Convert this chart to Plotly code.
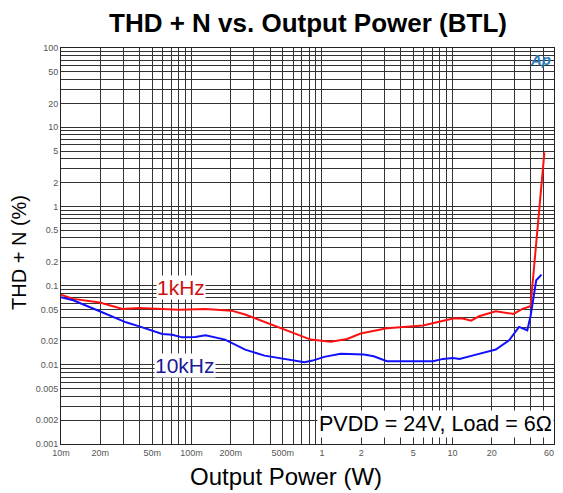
import numpy as np
import plotly.graph_objects as go

# ---- data ----
red_x = [0.010, 0.0124, 0.0198, 0.0297, 0.0398, 0.080, 0.128, 0.203, 0.258, 0.41, 0.58,
         0.653, 0.82, 1.17, 1.56, 1.98, 3.15, 5.95, 10.1, 12.0, 13.9, 16.0, 21.5, 29.4,
         34.4, 39.7, 50.7]
red_y = [0.077, 0.068, 0.061, 0.0508, 0.0523, 0.0494, 0.0508, 0.0483, 0.0431, 0.0322, 0.0253,
         0.0240, 0.0208, 0.0196, 0.0212, 0.0248, 0.0289, 0.0313, 0.0383, 0.0383, 0.0361, 0.041,
         0.0474, 0.0439, 0.0508, 0.0548, 4.8]

blue_x = [0.010, 0.0124, 0.0198, 0.0315, 0.0398, 0.0597, 0.0712, 0.0848, 0.107, 0.128, 0.181,
          0.258, 0.363, 0.517, 0.653, 0.734, 0.848, 1.041, 1.392, 2.094, 2.495, 3.148, 7.124,
          8.48, 10.1, 11.34, 15.19, 21.5, 27.2, 32.4, 37.5, 39.7, 43.9, 48.2]
blue_y = [0.0711, 0.0652, 0.0474, 0.0344, 0.0306, 0.0245, 0.0240, 0.0222, 0.0225, 0.0236, 0.0208,
          0.01556, 0.01306, 0.01187, 0.01107, 0.01076, 0.0113, 0.0126, 0.01374, 0.01345, 0.0128,
          0.01107, 0.01107, 0.01187, 0.01222, 0.01187, 0.01345, 0.01556, 0.0204, 0.0301, 0.0273,
          0.041, 0.1167, 0.1377]

x_label_vals = [0.01, 0.02, 0.05, 0.1, 0.2, 0.5, 1, 2, 5, 10, 20, 60]
x_label_text = ["10m", "20m", "50m", "100m", "200m", "500m", "1", "2", "5", "10", "20", "60"]
y_label_vals = [100, 50, 20, 10, 5, 2, 1, 0.5, 0.2, 0.1, 0.05, 0.02, 0.01, 0.005, 0.002, 0.001]
y_label_text = ["100", "50", "20", "10", "5", "2", "1", "0.5", "0.2", "0.1", "0.05", "0.02",
                "0.01", "0.005", "0.002", "0.001"]

title_text = "THD + N vs. Output Power (BTL)"
x_title = "Output Power (W)"
y_title = "THD + N (%)"
series_names = ["1kHz", "10kHz"]
cond_text = "PVDD = 24V, Load = 6Ω"

# grid positions (all 1..9 per decade)
x_grid = [k * 10.0 ** d for d in range(-2, 2) for k in range(1, 10) if k * 10.0 ** d <= 60]
y_grid = [k * 10.0 ** d for d in range(-3, 2) for k in range(1, 10)] + [100]

FONT = "Liberation Sans, Arial, sans-serif"
GRID = "#333333"

# page body has an 8px margin and the figure width is limited to 547px
W, H = 547, 485
L, R, T, B = 53, 1, 40, 49
pw, ph = W - L - R, H - T - B

fig = go.Figure()
fig.add_trace(go.Scatter(x=red_x, y=red_y, mode="lines", name=series_names[0],
                         line=dict(color="#ff1010", width=2)))
fig.add_trace(go.Scatter(x=blue_x, y=blue_y, mode="lines", name=series_names[1],
                         line=dict(color="#1010ff", width=2)))

axis_common = dict(showline=True, linecolor="#222", linewidth=1, mirror=True,
                   ticks="", showgrid=False, zeroline=False,
                   tickfont=dict(family=FONT, size=9, color="#555"))

x_lo, x_hi = np.log10(0.01), np.log10(60.0)
# label for the right-most tick is pulled inward slightly so it stays on the page
x_label_pos = [v if v < 60 else v * 10 ** (-5 / (pw / (x_hi - x_lo))) for v in x_label_vals]

fig.update_xaxes(type="log", range=[x_lo, x_hi + 0.0005],
                 tickmode="array", tickvals=x_label_pos, ticktext=x_label_text,
                 minor=dict(tickmode="array", tickvals=x_grid, showgrid=True,
                            gridcolor=GRID, gridwidth=1, ticks=""),
                 **axis_common)
fig.update_yaxes(type="log", range=[-3, 2],
                 tickmode="array", tickvals=y_label_vals, ticktext=y_label_text,
                 minor=dict(tickmode="array", tickvals=y_grid, showgrid=True,
                            gridcolor=GRID, gridwidth=1, ticks=""),
                 **axis_common)


# positions expressed relative to the reference plot area (x 61..560, y 48..444)
def px(xp):
    return (xp - 61) / 499


def py(yp):
    return (444 - yp) / 396


annos = [
    dict(text="<b>" + title_text + "</b>", x=0.5, y=py(23), font=dict(size=26, color="#000")),
    dict(text=x_title, x=px(289), y=py(477), font=dict(size=24, color="#000")),
    dict(text=y_title, x=-(61 - 19) / pw, y=py(253), textangle=-90,
         font=dict(size=20, color="#000")),
    dict(text=series_names[0], x=px(182), y=py(287), font=dict(size=21, color="#cc1010"),
         bgcolor="white", borderpad=0),
    dict(text=series_names[1], x=px(187), y=py(365), font=dict(size=21, color="#1a1a99"),
         bgcolor="white", borderpad=0),
    dict(text=cond_text, x=px(440), y=py(424), font=dict(size=21.5, color="#000"),
         bgcolor="white", borderpad=1),
    dict(text="<b><i>Ap</i></b>", x=px(546), y=py(60), font=dict(size=15, color="#2a7ab8")),
]
for a in annos:
    a.update(xref="paper", yref="paper", showarrow=False, xanchor="center", yanchor="middle")
    a["font"]["family"] = FONT

fig.update_layout(width=W, height=H, margin=dict(l=L, r=R, t=T, b=B),
                  plot_bgcolor="white", paper_bgcolor="white", showlegend=False,
                  annotations=annos, font=dict(family=FONT))

fig.write_html("out.html")
